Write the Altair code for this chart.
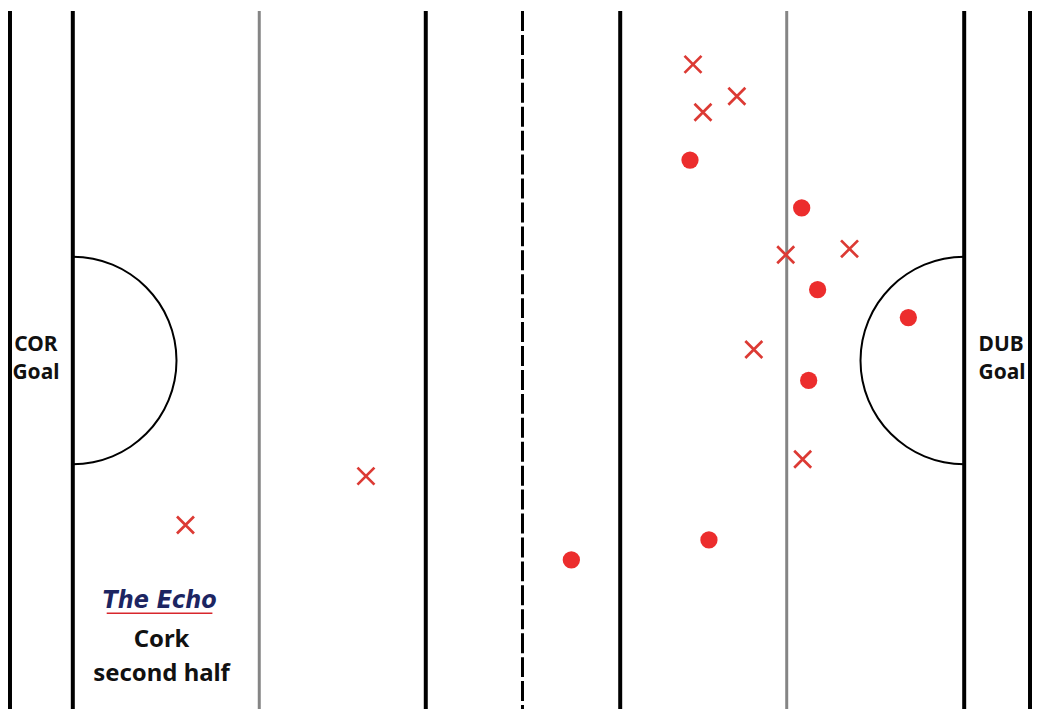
import math
import altair as alt
import pandas as pd

# Shot positions (pitch coordinates, same units as the picture)
cross_x = [693, 737, 703, 786, 850, 754, 803, 365, 184]
cross_y = [63, 95, 111, 254, 248, 349, 459, 476, 525]
circle_x = [690, 802, 818, 909, 809, 709, 571]
circle_y = [159, 207, 289, 317, 380, 540, 560]

# Pitch markings
black_lines = [8, 71, 425, 620, 965, 1031]
gray_lines = [258, 787]
half_line = [522]
arc_cx = [71, 965]
arc_cy = [360, 360]
arc_t0 = [0, math.pi]
arc_t1 = [math.pi, 2 * math.pi]

goal_text = ["COR", "Goal", "DUB", "Goal"]
goal_tx = [34, 34, 1002, 1003]
goal_ty = [344, 373, 344, 373]

caption = ["Cork", "second half"]
caption_x = [160, 160]
caption_y = [640, 674]

W, H = 1024, 700
Y0 = 9.5
xs = alt.Scale(domain=[8, 8 + W], nice=False, zero=False)
ys = alt.Scale(domain=[Y0, Y0 + H], nice=False, zero=False, reverse=True)


def X(f):
    return alt.X(f, type="quantitative", scale=xs, axis=None)


def Y(f):
    return alt.Y(f, type="quantitative", scale=ys, axis=None)


black_df = pd.DataFrame({"x": black_lines})
gray_df = pd.DataFrame({"x": gray_lines})
half_df = pd.DataFrame({"x": half_line})
arc_df = pd.DataFrame({"x": arc_cx, "y": arc_cy, "t0": arc_t0, "t1": arc_t1})
cross_df = pd.DataFrame({"x": cross_x, "y": cross_y})
circle_df = pd.DataFrame({"x": circle_x, "y": circle_y})
goal_df = pd.DataFrame({"t": goal_text, "x": goal_tx, "y": goal_ty})
cap_df = pd.DataFrame({"t": caption, "x": caption_x, "y": caption_y})
logo_df = pd.DataFrame({"t": ["The Echo"], "x": [158], "y": [600]})
underline_df = pd.DataFrame({"x": [105], "x2": [211], "y": [613.5]})

black = alt.Chart(black_df).mark_rule(color="#000000", strokeWidth=4).encode(x=X("x"))
gray = alt.Chart(gray_df).mark_rule(color="#858585", strokeWidth=3).encode(x=X("x"))
half = alt.Chart(half_df).mark_rule(
    color="#000000", strokeWidth=3, strokeDash=[20, 4]
).encode(x=X("x"))

arcs = alt.Chart(arc_df).mark_arc(
    innerRadius=103, outerRadius=105, color="#000000"
).encode(
    x=X("x"), y=Y("y"),
    theta=alt.Theta("t0:Q", scale=None),
    theta2="t1:Q",
)

crosses = alt.Chart(cross_df).mark_point(
    shape="M-1,-1L1,1M1,-1L-1,1", size=290, strokeWidth=2.7,
    color="#dc3a34", filled=False, opacity=1
).encode(x=X("x"), y=Y("y"))

circles = alt.Chart(circle_df).mark_circle(
    size=300, color="#ec2d2d", opacity=1
).encode(x=X("x"), y=Y("y"))

goals = alt.Chart(goal_df).mark_text(
    font="Noto Sans", fontSize=21, fontWeight="bold", color="#111111",
    align="center", baseline="middle"
).encode(x=X("x"), y=Y("y"), text="t:N")

cap = alt.Chart(cap_df).mark_text(
    font="Noto Sans", fontSize=24, fontWeight="bold", color="#111111",
    align="center", baseline="middle"
).encode(x=X("x"), y=Y("y"), text="t:N")

logo = alt.Chart(logo_df).mark_text(
    font="Liberation Sans Narrow, DejaVu Sans Condensed, Liberation Sans",
    fontSize=25, fontWeight="bold",
    fontStyle="italic", color="#1c2562", align="center", baseline="middle"
).encode(x=X("x"), y=Y("y"), text="t:N")

underline = alt.Chart(underline_df).mark_rule(
    color="#d8262c", strokeWidth=1.6
).encode(x=X("x"), x2="x2", y=Y("y"))

chart = alt.layer(
    gray, black, half, arcs, underline, logo, goals, cap, crosses, circles
).properties(
    width=W, height=H, padding=0, background="#ffffff"
).configure_view(stroke=None)

chart.save("out.html", embed_options={"renderer": "svg", "actions": False})
